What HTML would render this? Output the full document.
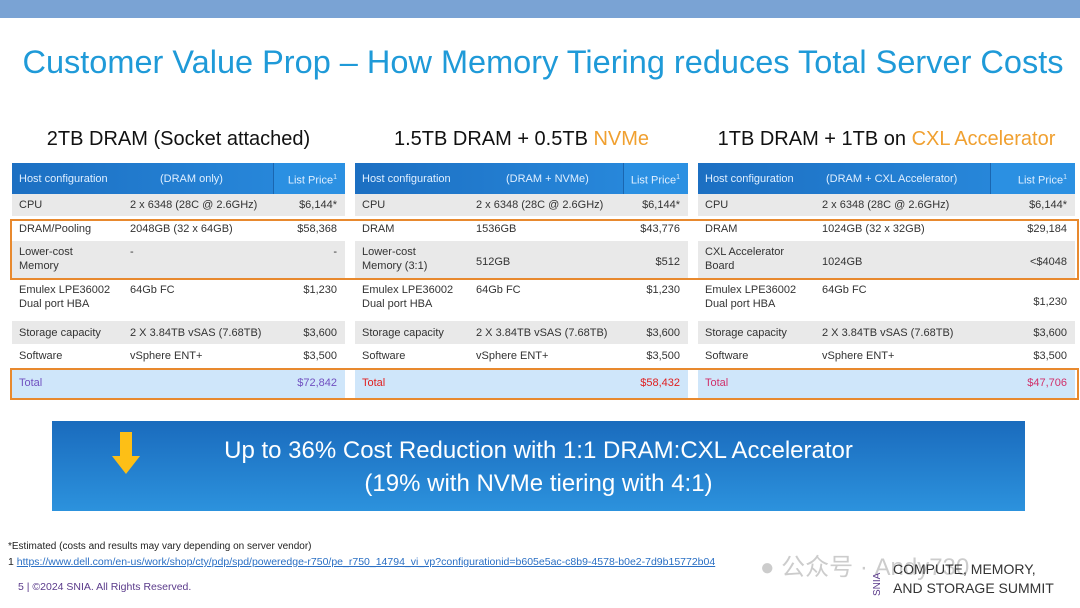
<!DOCTYPE html>
<html><head><meta charset="utf-8"><style>
*{margin:0;padding:0;box-sizing:border-box}
body{width:1080px;height:608px;background:#fff;position:relative;overflow:hidden;font-family:"Liberation Sans","Noto Sans CJK SC",sans-serif}
.a{position:absolute;white-space:nowrap}
.cell{position:absolute;font-size:11px;color:#333;line-height:14px}
.r{text-align:right}
</style></head><body>
<div class="a" style="left:0;top:0;width:1080px;height:18px;background:#7aa3d4"></div>
<div class="a" style="left:0;top:44px;width:1086px;text-align:center;font-size:32.5px;color:#1f9ad8">Customer Value Prop – How Memory Tiering reduces Total Server Costs</div>

<div class="a" style="left:12px;top:128px;width:333px;text-align:center;font-size:20px;color:#111">2TB DRAM (Socket attached)</div>
<div class="a" style="left:355px;top:128px;width:333px;text-align:center;font-size:20px;color:#111">1.5TB DRAM + 0.5TB <span style="color:#f0a030">NVMe</span></div>
<div class="a" style="left:698px;top:128px;width:377px;text-align:center;font-size:20px;color:#111">1TB DRAM + 1TB on <span style="color:#f0a030">CXL Accelerator</span></div>

<div id="tables"></div>

<div class="a" style="left:10px;top:219px;width:1069px;height:61px;border:2px solid #e8892e"></div>
<div class="a" style="left:10px;top:368px;width:1069px;height:32px;border:2px solid #e8892e"></div>

<div class="a" style="left:52px;top:421px;width:973px;height:90px;background:linear-gradient(#1a6bbd,#2c92dd)"></div>
<svg class="a" style="left:110px;top:432px" width="32" height="44"><polygon points="10,0 22,0 22,24 30,24 16,42 2,24 10,24" fill="#fdbf16"/></svg>
<div class="a" style="left:52px;top:437px;width:973px;text-align:center;font-size:24px;color:#fff">Up to 36% Cost Reduction with 1:1 DRAM:CXL Accelerator</div>
<div class="a" style="left:52px;top:470px;width:973px;text-align:center;font-size:24px;color:#fff">(19% with NVMe tiering with 4:1)</div>

<div class="a" style="left:8px;top:541px;font-size:10px;color:#222">*Estimated  (costs and results may vary depending on server vendor)</div>
<div class="a" style="left:8px;top:556px;font-size:10.5px;color:#222">1 <span style="color:#2a6fc4;text-decoration:underline">https://www.dell.com/en-us/work/shop/cty/pdp/spd/poweredge-r750/pe_r750_14794_vi_vp?configurationid=b605e5ac-c8b9-4578-b0e2-7d9b15772b04</span></div>
<div class="a" style="left:18px;top:581px;font-size:10.5px;color:#5a3a8a">5 | ©2024 SNIA. All Rights Reserved.</div>
<div class="a" style="left:760px;top:547px;font-size:24px;color:#ccc">● 公众号 · Andy730</div>
<div class="a" style="left:872px;font-size:10px;color:#5a3a8a;transform:rotate(-90deg);transform-origin:left top;top:596px">SNIA</div>
<div class="a" style="left:893px;top:560px;font-size:14px;line-height:19px;color:#333">COMPUTE, MEMORY,<br>AND STORAGE SUMMIT</div>

<script>
const rowsY=[194,216,241,279,321,344,368];
const rowsH=[22,25,38,42,23,24,30];
const labels1=[["CPU","2 x 6348  (28C @ 2.6GHz)","$6,144*"],["DRAM/Pooling","2048GB (32 x 64GB)","$58,368"],["Lower-cost\nMemory","-","-"],["Emulex LPE36002\nDual port HBA","64Gb FC","$1,230"],["Storage capacity","2 X 3.84TB vSAS (7.68TB)","$3,600"],["Software","vSphere ENT+","$3,500"],["Total","","$72,842"]];
const labels2=[["CPU","2 x 6348 (28C @ 2.6GHz)","$6,144*"],["DRAM","1536GB","$43,776"],["Lower-cost\nMemory (3:1)","512GB","$512"],["Emulex LPE36002\nDual port HBA","64Gb FC","$1,230"],["Storage capacity","2 X 3.84TB vSAS (7.68TB)","$3,600"],["Software","vSphere ENT+","$3,500"],["Total","","$58,432"]];
const labels3=[["CPU","2 x 6348 (28C @ 2.6GHz)","$6,144*"],["DRAM","1024GB (32 x 32GB)","$29,184"],["CXL Accelerator\nBoard","1024GB","<$4048"],["Emulex LPE36002\nDual port HBA","64Gb FC","$1,230"],["Storage capacity","2 X 3.84TB vSAS (7.68TB)","$3,600"],["Software","vSphere ENT+","$3,500"],["Total","","$47,706"]];
const tables=[
 {x:12,w:333,c2:130,div:273,hdr:"(DRAM only)",rows:labels1,tot:"#7050c0"},
 {x:355,w:333,c2:476,div:623,hdr:"(DRAM + NVMe)",rows:labels2,tot:"#e02020"},
 {x:698,w:377,c2:822,div:990,hdr:"(DRAM + CXL Accelerator)",rows:labels3,tot:"#d0306a"}];
const bgs=["#e9e9e9","#fff","#e9e9e9","#fff","#e9e9e9","#fff","#cfe6fa"];
const host=document.getElementById('tables');
tables.forEach((t,ti)=>{
 const h=document.createElement('div');h.className='a';
 
 
 h.style.cssText=`left:${t.x}px;top:163px;width:${t.w}px;height:31px;background:linear-gradient(90deg,#1c6fc2,#2a8de0)`;
 h.innerHTML=`<span class="cell" style="left:7px;top:9px;color:#dfefff">Host configuration</span><span class="cell" style="left:${t.c2-t.x+(ti==2?4:30)}px;top:9px;color:#dfefff">${t.hdr}</span><span class="a" style="left:${t.div-t.x}px;top:0;width:${t.x+t.w-t.div}px;height:31px;background:#2b90e2;border-left:1px solid #1a66b0"></span><span class="cell r" style="right:8px;top:8px;color:#dfefff">List Price<sup style="font-size:7px">1</sup></span>`;
 host.appendChild(h);
 t.rows.forEach((r,i)=>{
  const d=document.createElement('div');d.className='a';
  
  
  d.style.cssText=`left:${t.x}px;top:${rowsY[i]}px;width:${t.w}px;height:${rowsH[i]}px;background:${bgs[i]}`;
  const two=r[0].includes('\n');const ty=two?4:(rowsH[i]-14)/2;
  const col=i==6?t.tot:'#333';
  const mid=(rowsH[i]-14)/2+2;
  const vy=((ti==2&&(i==2||i==3))||(ti==1&&i==2))?mid:ty;
  const cy=(ti>0&&i==2)?mid:ty;
  d.innerHTML=`<span class="cell" style="left:7px;top:${ty}px;color:${col}">${r[0].replace('\n','<br>')}</span><span class="cell" style="left:${t.c2-t.x}px;top:${cy}px">${r[1]}</span><span class="cell r" style="right:8px;top:${vy}px;color:${col}">${r[2]}</span>`;
  host.appendChild(d);
 });
});
</script>
</body></html>
